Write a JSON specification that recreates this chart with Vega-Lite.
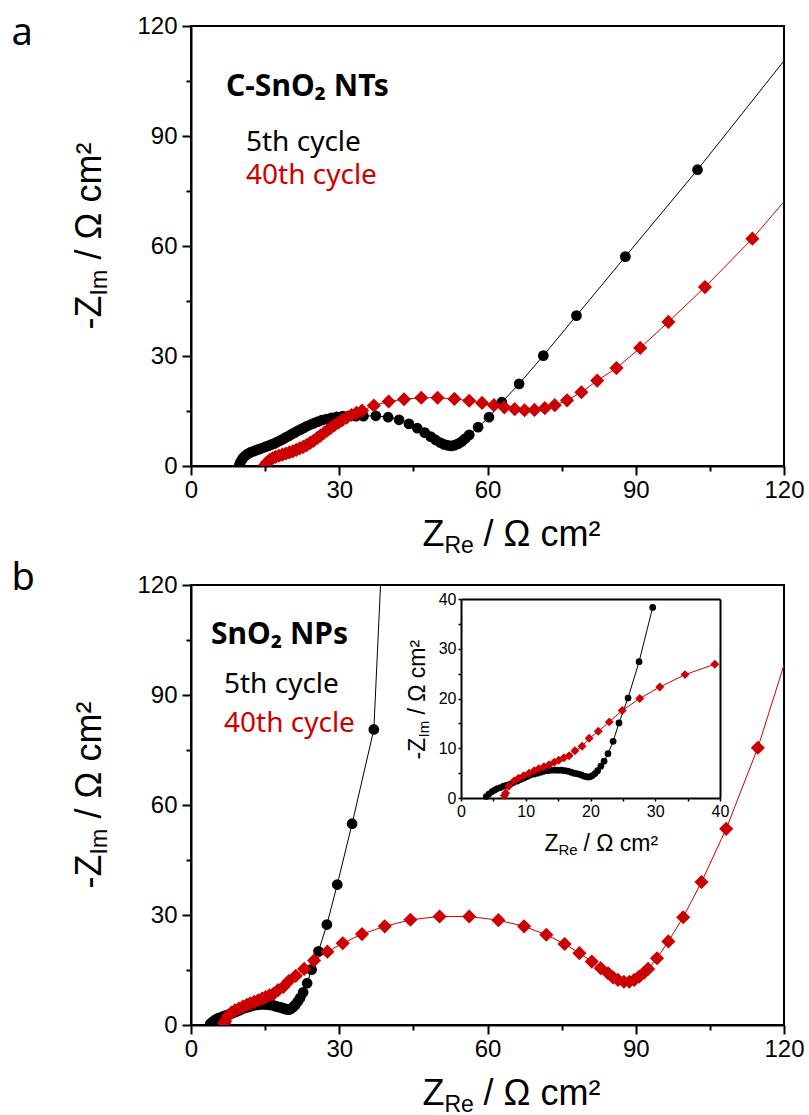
{
  "$schema": "https://vega.github.io/schema/vega-lite/v6.json",
  "background": "white",
  "padding": {"left": 10, "top": 13, "right": 5, "bottom": 5},
  "spacing": 0,
  "config": {
    "view": {"stroke": "black", "strokeWidth": 2},
    "axis": {"labelFont": "Liberation Sans", "titleFont": "Liberation Sans", "labelColor": "black", "titleColor": "black", "titleFontWeight": "normal", "domainColor": "black", "tickColor": "black", "grid": false},
    "legend": {"padding": 0}
  },
  "resolve": {"scale": {"color": "independent"}, "legend": {"color": "independent"}},
  "datasets": {
    "a": [
      {"c":"5th cycle","x":9.8,"y":0.3},{"c":"5th cycle","x":10.0,"y":1.0},{"c":"5th cycle","x":10.3,"y":1.7},{"c":"5th cycle","x":10.6,"y":2.3},{"c":"5th cycle","x":11.0,"y":2.8},{"c":"5th cycle","x":11.5,"y":3.3},{"c":"5th cycle","x":12.0,"y":3.7},{"c":"5th cycle","x":12.6,"y":4.0},{"c":"5th cycle","x":13.2,"y":4.3},{"c":"5th cycle","x":13.8,"y":4.6},{"c":"5th cycle","x":14.4,"y":4.9},{"c":"5th cycle","x":15.0,"y":5.2},{"c":"5th cycle","x":15.6,"y":5.5},{"c":"5th cycle","x":16.2,"y":5.8},{"c":"5th cycle","x":16.8,"y":6.1},{"c":"5th cycle","x":17.4,"y":6.5},{"c":"5th cycle","x":18.0,"y":6.9},{"c":"5th cycle","x":18.6,"y":7.3},{"c":"5th cycle","x":19.2,"y":7.8},{"c":"5th cycle","x":19.8,"y":8.2},{"c":"5th cycle","x":20.4,"y":8.7},{"c":"5th cycle","x":21.0,"y":9.1},{"c":"5th cycle","x":21.6,"y":9.6},{"c":"5th cycle","x":22.2,"y":10.0},{"c":"5th cycle","x":22.8,"y":10.4},{"c":"5th cycle","x":23.5,"y":10.9},{"c":"5th cycle","x":24.2,"y":11.3},{"c":"5th cycle","x":24.9,"y":11.7},{"c":"5th cycle","x":25.7,"y":12.1},{"c":"5th cycle","x":26.5,"y":12.5},{"c":"5th cycle","x":27.4,"y":12.8},{"c":"5th cycle","x":28.4,"y":13.1},{"c":"5th cycle","x":29.5,"y":13.4},{"c":"5th cycle","x":30.7,"y":13.6},{"c":"5th cycle","x":32.0,"y":13.7},{"c":"5th cycle","x":33.4,"y":13.6},{"c":"5th cycle","x":34.9,"y":13.6},{"c":"5th cycle","x":37.4,"y":13.7},{"c":"5th cycle","x":39.9,"y":13.3},{"c":"5th cycle","x":42.1,"y":12.6},{"c":"5th cycle","x":44.1,"y":11.5},{"c":"5th cycle","x":45.8,"y":10.3},{"c":"5th cycle","x":47.3,"y":9.1},{"c":"5th cycle","x":48.5,"y":8.0},{"c":"5th cycle","x":49.5,"y":7.1},{"c":"5th cycle","x":50.4,"y":6.4},{"c":"5th cycle","x":51.2,"y":5.9},{"c":"5th cycle","x":52.0,"y":5.6},{"c":"5th cycle","x":52.7,"y":5.5},{"c":"5th cycle","x":53.4,"y":5.7},{"c":"5th cycle","x":54.1,"y":6.1},{"c":"5th cycle","x":54.8,"y":6.7},{"c":"5th cycle","x":55.5,"y":7.5},{"c":"5th cycle","x":56.3,"y":8.5},{"c":"5th cycle","x":58.1,"y":10.6},{"c":"5th cycle","x":60.3,"y":13.3},{"c":"5th cycle","x":62.9,"y":17.4},{"c":"5th cycle","x":66.4,"y":22.4},{"c":"5th cycle","x":71.3,"y":30.1},{"c":"5th cycle","x":78.0,"y":41.0},{"c":"5th cycle","x":87.9,"y":57.1},{"c":"5th cycle","x":102.5,"y":80.8},{"c":"5th cycle","x":125,"y":119},
      {"c":"40th cycle","x":15.0,"y":0.3},{"c":"40th cycle","x":15.4,"y":1.0},{"c":"40th cycle","x":15.9,"y":1.6},{"c":"40th cycle","x":16.5,"y":2.1},{"c":"40th cycle","x":17.1,"y":2.5},{"c":"40th cycle","x":17.8,"y":2.8},{"c":"40th cycle","x":18.5,"y":3.1},{"c":"40th cycle","x":19.2,"y":3.4},{"c":"40th cycle","x":19.9,"y":3.7},{"c":"40th cycle","x":20.6,"y":4.0},{"c":"40th cycle","x":21.3,"y":4.4},{"c":"40th cycle","x":22.0,"y":4.8},{"c":"40th cycle","x":22.7,"y":5.2},{"c":"40th cycle","x":23.4,"y":5.7},{"c":"40th cycle","x":24.1,"y":6.3},{"c":"40th cycle","x":24.8,"y":6.9},{"c":"40th cycle","x":25.5,"y":7.6},{"c":"40th cycle","x":26.2,"y":8.3},{"c":"40th cycle","x":26.9,"y":9.0},{"c":"40th cycle","x":27.6,"y":9.7},{"c":"40th cycle","x":28.3,"y":10.4},{"c":"40th cycle","x":29.0,"y":11.1},{"c":"40th cycle","x":29.8,"y":11.8},{"c":"40th cycle","x":30.6,"y":12.5},{"c":"40th cycle","x":31.5,"y":13.2},{"c":"40th cycle","x":32.5,"y":13.9},{"c":"40th cycle","x":33.5,"y":14.5},{"c":"40th cycle","x":34.6,"y":15.1},{"c":"40th cycle","x":37.0,"y":16.5},{"c":"40th cycle","x":40.0,"y":17.6},{"c":"40th cycle","x":43.1,"y":18.2},{"c":"40th cycle","x":46.6,"y":18.6},{"c":"40th cycle","x":49.9,"y":18.6},{"c":"40th cycle","x":53.3,"y":18.3},{"c":"40th cycle","x":56.3,"y":17.8},{"c":"40th cycle","x":58.9,"y":17.2},{"c":"40th cycle","x":61.3,"y":16.6},{"c":"40th cycle","x":63.4,"y":16.0},{"c":"40th cycle","x":65.5,"y":15.5},{"c":"40th cycle","x":67.5,"y":15.2},{"c":"40th cycle","x":69.5,"y":15.3},{"c":"40th cycle","x":71.6,"y":15.8},{"c":"40th cycle","x":73.6,"y":16.6},{"c":"40th cycle","x":76.1,"y":17.9},{"c":"40th cycle","x":79.0,"y":20.1},{"c":"40th cycle","x":82.2,"y":23.3},{"c":"40th cycle","x":86.1,"y":26.7},{"c":"40th cycle","x":90.9,"y":32.2},{"c":"40th cycle","x":96.6,"y":39.3},{"c":"40th cycle","x":104.0,"y":48.8},{"c":"40th cycle","x":113.6,"y":62.0},{"c":"40th cycle","x":125,"y":80}
    ],
    "b": [
      {"c":"5th cycle","x":3.9,"y":0.3},{"c":"5th cycle","x":4.3,"y":0.8},{"c":"5th cycle","x":4.8,"y":1.3},{"c":"5th cycle","x":5.2,"y":1.6},{"c":"5th cycle","x":5.6,"y":1.9},{"c":"5th cycle","x":6.1,"y":2.1},{"c":"5th cycle","x":6.6,"y":2.4},{"c":"5th cycle","x":7.1,"y":2.6},{"c":"5th cycle","x":7.6,"y":2.8},{"c":"5th cycle","x":8.1,"y":3.1},{"c":"5th cycle","x":8.7,"y":3.4},{"c":"5th cycle","x":9.2,"y":3.7},{"c":"5th cycle","x":9.7,"y":4.0},{"c":"5th cycle","x":10.2,"y":4.3},{"c":"5th cycle","x":10.7,"y":4.6},{"c":"5th cycle","x":11.3,"y":4.8},{"c":"5th cycle","x":11.8,"y":5.0},{"c":"5th cycle","x":12.3,"y":5.2},{"c":"5th cycle","x":12.8,"y":5.4},{"c":"5th cycle","x":13.4,"y":5.5},{"c":"5th cycle","x":13.9,"y":5.6},{"c":"5th cycle","x":14.5,"y":5.6},{"c":"5th cycle","x":15.0,"y":5.6},{"c":"5th cycle","x":15.5,"y":5.6},{"c":"5th cycle","x":16.0,"y":5.5},{"c":"5th cycle","x":16.5,"y":5.4},{"c":"5th cycle","x":17.0,"y":5.2},{"c":"5th cycle","x":17.4,"y":5.0},{"c":"5th cycle","x":17.8,"y":4.9},{"c":"5th cycle","x":18.2,"y":4.8},{"c":"5th cycle","x":18.6,"y":4.6},{"c":"5th cycle","x":19.0,"y":4.4},{"c":"5th cycle","x":19.3,"y":4.3},{"c":"5th cycle","x":19.7,"y":4.2},{"c":"5th cycle","x":20.0,"y":4.3},{"c":"5th cycle","x":20.3,"y":4.5},{"c":"5th cycle","x":20.7,"y":4.9},{"c":"5th cycle","x":21.1,"y":5.5},{"c":"5th cycle","x":21.6,"y":6.4},{"c":"5th cycle","x":22.1,"y":7.4},{"c":"5th cycle","x":22.7,"y":8.9},{"c":"5th cycle","x":23.5,"y":11.4},{"c":"5th cycle","x":24.4,"y":15.1},{"c":"5th cycle","x":25.8,"y":20.1},{"c":"5th cycle","x":27.5,"y":27.4},{"c":"5th cycle","x":29.6,"y":38.3},{"c":"5th cycle","x":32.6,"y":54.9},{"c":"5th cycle","x":37.0,"y":80.6},{"c":"5th cycle","x":38.7,"y":130},
      {"c":"40th cycle","x":6.7,"y":0.5},{"c":"40th cycle","x":6.9,"y":1.0},{"c":"40th cycle","x":7.4,"y":2.4},{"c":"40th cycle","x":8.2,"y":3.4},{"c":"40th cycle","x":8.9,"y":4.0},{"c":"40th cycle","x":9.7,"y":4.5},{"c":"40th cycle","x":10.5,"y":5.0},{"c":"40th cycle","x":11.3,"y":5.5},{"c":"40th cycle","x":12.0,"y":5.9},{"c":"40th cycle","x":12.8,"y":6.3},{"c":"40th cycle","x":13.6,"y":6.7},{"c":"40th cycle","x":14.4,"y":7.2},{"c":"40th cycle","x":15.1,"y":7.6},{"c":"40th cycle","x":15.9,"y":8.1},{"c":"40th cycle","x":16.7,"y":8.5},{"c":"40th cycle","x":17.6,"y":9.5},{"c":"40th cycle","x":18.7,"y":10.4},{"c":"40th cycle","x":19.8,"y":12.0},{"c":"40th cycle","x":21.2,"y":13.4},{"c":"40th cycle","x":22.9,"y":15.3},{"c":"40th cycle","x":24.9,"y":17.6},{"c":"40th cycle","x":27.6,"y":20.0},{"c":"40th cycle","x":30.7,"y":22.3},{"c":"40th cycle","x":34.6,"y":24.8},{"c":"40th cycle","x":39.2,"y":26.9},{"c":"40th cycle","x":44.4,"y":28.7},{"c":"40th cycle","x":50.3,"y":29.6},{"c":"40th cycle","x":56.3,"y":29.6},{"c":"40th cycle","x":62.2,"y":28.6},{"c":"40th cycle","x":67.4,"y":26.9},{"c":"40th cycle","x":71.9,"y":24.6},{"c":"40th cycle","x":75.6,"y":22.1},{"c":"40th cycle","x":78.6,"y":19.6},{"c":"40th cycle","x":81.1,"y":17.3},{"c":"40th cycle","x":82.9,"y":15.5},{"c":"40th cycle","x":84.4,"y":14.1},{"c":"40th cycle","x":85.4,"y":13.0},{"c":"40th cycle","x":86.4,"y":12.3},{"c":"40th cycle","x":87.6,"y":11.8},{"c":"40th cycle","x":88.7,"y":11.8},{"c":"40th cycle","x":89.7,"y":12.3},{"c":"40th cycle","x":90.7,"y":13.2},{"c":"40th cycle","x":91.7,"y":14.3},{"c":"40th cycle","x":92.5,"y":15.3},{"c":"40th cycle","x":94.3,"y":18.2},{"c":"40th cycle","x":96.6,"y":22.8},{"c":"40th cycle","x":99.6,"y":29.4},{"c":"40th cycle","x":103.3,"y":39.0},{"c":"40th cycle","x":108.3,"y":53.5},{"c":"40th cycle","x":114.7,"y":75.6},{"c":"40th cycle","x":123,"y":111}
    ]
  },
  "vconcat": [
    {
      "width": 593, "height": 440,
      "data": {"name": "a"},
      "resolve": {"axis": {"x": "independent", "y": "independent"}},
      "layer": [
        {
          "transform": [{"filter": "datum.c === '5th cycle'"}],
          "mark": {"type": "line", "strokeWidth": 1, "clip": true},
          "encoding": {
            "x": {"field": "x", "type": "quantitative", "scale": {"domain": [0, 120], "nice": false, "zero": false},
              "axis": {"orient": "bottom", "values": [0,15,30,45,60,75,90,105,120], "labelExpr": "datum.value % 30 === 0 ? datum.label : ''", "tickSize": {"condition": {"test": "datum.value % 30 === 0", "value": 9}, "value": 5}, "tickWidth": 2, "domainWidth": 2, "labelFontSize": 24, "labelPadding": 3, "labelFlush": false, "labelOverlap": false, "title": "Z", "titleFontSize": 36, "titleAlign": "left", "titleBaseline": "alphabetic", "titleAngle": 0, "titleX": 231, "titleY": 79}},
            "y": {"field": "y", "type": "quantitative", "scale": {"domain": [0, 120], "nice": false, "zero": false},
              "axis": {"orient": "left", "values": [0,15,30,45,60,75,90,105,120], "labelExpr": "datum.value % 30 === 0 ? datum.label : ''", "tickSize": {"condition": {"test": "datum.value % 30 === 0", "value": 9}, "value": 5}, "tickWidth": 2, "domainWidth": 2, "labelFontSize": 24, "labelPadding": 5, "labelFlush": false, "labelOverlap": false, "title": "-Z", "titleFontSize": 36, "titleAngle": 270, "titleAlign": "left", "titleBaseline": "alphabetic", "titleX": -91, "titleY": 303}},
            "color": {"field": "c", "type": "nominal", "scale": {"domain": ["5th cycle", "40th cycle"], "range": ["black", "#cc0000"]},
              "legend": {"orient": "none", "legendX": 35, "legendY": 46, "title": "C-SnO₂ NTs", "titleFont": "Noto Sans", "titleFontSize": 30, "titleFontWeight": "bold", "titleColor": "black", "titlePadding": 27, "labelFont": "Noto Sans", "labelFontSize": 28, "labelColor": {"expr": "datum.label === '5th cycle' ? 'black' : '#cc0000'"}, "symbolOpacity": 0, "symbolSize": 0, "symbolStrokeWidth": 0, "labelOffset": -8, "rowPadding": 5, "labelLimit": 400}}
          }
        },
        {
          "transform": [{"filter": "datum.c === '40th cycle'"}],
          "mark": {"type": "line", "strokeWidth": 1, "clip": true},
          "encoding": {
            "x": {"field": "x", "type": "quantitative", "scale": {"domain": [0, 120], "nice": false, "zero": false},
              "axis": {"orient": "bottom", "domain": false, "ticks": false, "labels": false, "title": "Re", "titleFontSize": 23, "titleAlign": "left", "titleBaseline": "alphabetic", "titleAngle": 0, "titleX": 253, "titleY": 86}},
            "y": {"field": "y", "type": "quantitative", "scale": {"domain": [0, 120], "nice": false, "zero": false},
              "axis": {"orient": "left", "domain": false, "ticks": false, "labels": false, "title": "Im", "titleFontSize": 23, "titleAngle": 270, "titleAlign": "left", "titleBaseline": "alphabetic", "titleX": -85, "titleY": 269}},
            "color": {"field": "c", "type": "nominal", "scale": {"domain": ["5th cycle", "40th cycle"], "range": ["black", "#cc0000"]}}
          }
        },
        {
          "transform": [{"filter": "datum.c === '5th cycle'"}],
          "mark": {"type": "point", "shape": "circle", "filled": true, "size": 115, "opacity": 1, "clip": true},
          "encoding": {
            "x": {"field": "x", "type": "quantitative", "scale": {"domain": [0, 120], "nice": false, "zero": false},
              "axis": {"orient": "bottom", "domain": false, "ticks": false, "labels": false, "title": "/ Ω cm²", "titleFontSize": 36, "titleAlign": "left", "titleBaseline": "alphabetic", "titleAngle": 0, "titleX": 292, "titleY": 79}},
            "y": {"field": "y", "type": "quantitative", "scale": {"domain": [0, 120], "nice": false, "zero": false},
              "axis": {"orient": "left", "domain": false, "ticks": false, "labels": false, "title": "/ Ω cm²", "titleFontSize": 36, "titleAngle": 270, "titleAlign": "left", "titleBaseline": "alphabetic", "titleX": -91, "titleY": 233}},
            "color": {"field": "c", "type": "nominal", "scale": {"domain": ["5th cycle", "40th cycle"], "range": ["black", "#cc0000"]}}
          }
        },
        {
          "transform": [{"filter": "datum.c === '40th cycle'"}],
          "mark": {"type": "point", "shape": "diamond", "filled": true, "size": 200, "opacity": 1, "clip": true},
          "encoding": {
            "x": {"field": "x", "type": "quantitative", "scale": {"domain": [0, 120], "nice": false, "zero": false}, "axis": null},
            "y": {"field": "y", "type": "quantitative", "scale": {"domain": [0, 120], "nice": false, "zero": false},
              "axis": {"orient": "left", "domain": false, "ticks": false, "labels": false, "title": "a", "titleFont": "Noto Sans", "titleFontSize": 38, "titleAngle": 0, "titleAlign": "left", "titleBaseline": "alphabetic", "titleX": -180, "titleY": 18}},
            "color": {"field": "c", "type": "nominal", "scale": {"domain": ["5th cycle", "40th cycle"], "range": ["black", "#cc0000"]}}
          }
        }
      ]
    },
    {
      "width": 593, "height": 440,
      "data": {"name": "b"},
      "resolve": {"scale": {"x": "independent", "y": "independent"}, "axis": {"x": "independent", "y": "independent"}},
      "layer": [
        {
          "resolve": {"axis": {"x": "independent", "y": "independent"}},
          "layer": [
            {
              "transform": [{"filter": "datum.c === '5th cycle'"}],
              "mark": {"type": "line", "strokeWidth": 1, "clip": true},
              "encoding": {
                "x": {"field": "x", "type": "quantitative", "scale": {"domain": [0, 120], "nice": false, "zero": false},
                  "axis": {"orient": "bottom", "values": [0,15,30,45,60,75,90,105,120], "labelExpr": "datum.value % 30 === 0 ? datum.label : ''", "tickSize": {"condition": {"test": "datum.value % 30 === 0", "value": 9}, "value": 5}, "tickWidth": 2, "domainWidth": 2, "labelFontSize": 24, "labelPadding": 3, "labelFlush": false, "labelOverlap": false, "title": "Z", "titleFontSize": 36, "titleAlign": "left", "titleBaseline": "alphabetic", "titleAngle": 0, "titleX": 231, "titleY": 79}},
                "y": {"field": "y", "type": "quantitative", "scale": {"domain": [0, 120], "nice": false, "zero": false},
                  "axis": {"orient": "left", "values": [0,15,30,45,60,75,90,105,120], "labelExpr": "datum.value % 30 === 0 ? datum.label : ''", "tickSize": {"condition": {"test": "datum.value % 30 === 0", "value": 9}, "value": 5}, "tickWidth": 2, "domainWidth": 2, "labelFontSize": 24, "labelPadding": 5, "labelFlush": false, "labelOverlap": false, "title": "-Z", "titleFontSize": 36, "titleAngle": 270, "titleAlign": "left", "titleBaseline": "alphabetic", "titleX": -91, "titleY": 303}},
                "color": {"field": "c", "type": "nominal", "scale": {"domain": ["5th cycle", "40th cycle"], "range": ["black", "#cc0000"]},
                  "legend": {"orient": "none", "legendX": 20, "legendY": 35, "title": "SnO₂ NPs", "titleFont": "Noto Sans", "titleFontSize": 30, "titleFontWeight": "bold", "titleColor": "black", "titlePadding": 21, "labelFont": "Noto Sans", "labelFontSize": 28, "labelColor": {"expr": "datum.label === '5th cycle' ? 'black' : '#cc0000'"}, "symbolOpacity": 0, "symbolSize": 0, "symbolStrokeWidth": 0, "labelOffset": -15, "rowPadding": 11, "labelLimit": 400}}
              }
            },
            {
              "transform": [{"filter": "datum.c === '40th cycle'"}],
              "mark": {"type": "line", "strokeWidth": 1, "clip": true},
              "encoding": {
                "x": {"field": "x", "type": "quantitative", "scale": {"domain": [0, 120], "nice": false, "zero": false},
                  "axis": {"orient": "bottom", "domain": false, "ticks": false, "labels": false, "title": "Re", "titleFontSize": 23, "titleAlign": "left", "titleBaseline": "alphabetic", "titleAngle": 0, "titleX": 253, "titleY": 86}},
                "y": {"field": "y", "type": "quantitative", "scale": {"domain": [0, 120], "nice": false, "zero": false},
                  "axis": {"orient": "left", "domain": false, "ticks": false, "labels": false, "title": "Im", "titleFontSize": 23, "titleAngle": 270, "titleAlign": "left", "titleBaseline": "alphabetic", "titleX": -85, "titleY": 269}},
                "color": {"field": "c", "type": "nominal", "scale": {"domain": ["5th cycle", "40th cycle"], "range": ["black", "#cc0000"]}}
              }
            },
            {
              "transform": [{"filter": "datum.c === '5th cycle'"}],
              "mark": {"type": "point", "shape": "circle", "filled": true, "size": 115, "opacity": 1, "clip": true},
              "encoding": {
                "x": {"field": "x", "type": "quantitative", "scale": {"domain": [0, 120], "nice": false, "zero": false},
                  "axis": {"orient": "bottom", "domain": false, "ticks": false, "labels": false, "title": "/ Ω cm²", "titleFontSize": 36, "titleAlign": "left", "titleBaseline": "alphabetic", "titleAngle": 0, "titleX": 292, "titleY": 79}},
                "y": {"field": "y", "type": "quantitative", "scale": {"domain": [0, 120], "nice": false, "zero": false},
                  "axis": {"orient": "left", "domain": false, "ticks": false, "labels": false, "title": "/ Ω cm²", "titleFontSize": 36, "titleAngle": 270, "titleAlign": "left", "titleBaseline": "alphabetic", "titleX": -91, "titleY": 233}},
                "color": {"field": "c", "type": "nominal", "scale": {"domain": ["5th cycle", "40th cycle"], "range": ["black", "#cc0000"]}}
              }
            },
            {
              "transform": [{"filter": "datum.c === '40th cycle'"}],
              "mark": {"type": "point", "shape": "diamond", "filled": true, "size": 200, "opacity": 1, "clip": true},
              "encoding": {
                "x": {"field": "x", "type": "quantitative", "scale": {"domain": [0, 120], "nice": false, "zero": false}, "axis": null},
                "y": {"field": "y", "type": "quantitative", "scale": {"domain": [0, 120], "nice": false, "zero": false},
                  "axis": {"orient": "left", "domain": false, "ticks": false, "labels": false, "title": "b", "titleFont": "Noto Sans", "titleFontSize": 38, "titleAngle": 0, "titleAlign": "left", "titleBaseline": "alphabetic", "titleX": -180, "titleY": 4}},
                "color": {"field": "c", "type": "nominal", "scale": {"domain": ["5th cycle", "40th cycle"], "range": ["black", "#cc0000"]}}
              }
            }
          ]
        },
        {
          "resolve": {"axis": {"x": "independent", "y": "independent"}},
          "transform": [{"filter": "datum.x <= 40 && datum.y <= 40"}],
          "layer": [
            {
              "transform": [{"filter": "datum.c === '5th cycle'"}],
              "mark": {"type": "line", "strokeWidth": 1, "color": "black"},
              "encoding": {
                "x": {"field": "x", "type": "quantitative", "scale": {"domain": [0, 40], "range": [270, 529], "nice": false, "zero": false},
                  "axis": {"orient": "bottom", "offset": -227, "values": [0,5,10,15,20,25,30,35,40], "labelExpr": "datum.value % 10 === 0 ? datum.label : ''", "tickSize": 3, "tickWidth": 1.5, "domainWidth": 2, "labelFontSize": 16, "labelPadding": 2, "labelFlush": false, "labelOverlap": false, "title": "Z", "titleFontSize": 23, "titleAlign": "left", "titleBaseline": "alphabetic", "titleAngle": 0, "titleX": 353, "titleY": 52}},
                "y": {"field": "y", "type": "quantitative", "scale": {"domain": [0, 40], "range": [213, 14], "nice": false, "zero": false},
                  "axis": {"orient": "left", "offset": -270, "values": [0,5,10,15,20,25,30,35,40], "labelExpr": "datum.value % 10 === 0 ? datum.label : ''", "tickSize": 3, "tickWidth": 1.5, "domainWidth": 2, "labelFontSize": 16, "labelPadding": 2, "labelFlush": false, "labelOverlap": false, "title": "-Z", "titleFontSize": 23, "titleAngle": 270, "titleAlign": "left", "titleBaseline": "alphabetic", "titleX": -37, "titleY": 174}}
              }
            },
            {
              "transform": [{"filter": "datum.c === '40th cycle'"}],
              "mark": {"type": "line", "strokeWidth": 1, "color": "#cc0000"},
              "encoding": {
                "x": {"field": "x", "type": "quantitative", "scale": {"domain": [0, 40], "range": [270, 529], "nice": false, "zero": false},
                  "axis": {"orient": "bottom", "offset": -227, "domain": false, "ticks": false, "labels": false, "title": "Re", "titleFontSize": 15, "titleAlign": "left", "titleBaseline": "alphabetic", "titleAngle": 0, "titleX": 367, "titleY": 56}},
                "y": {"field": "y", "type": "quantitative", "scale": {"domain": [0, 40], "range": [213, 14], "nice": false, "zero": false},
                  "axis": {"orient": "left", "offset": -270, "domain": false, "ticks": false, "labels": false, "title": "Im", "titleFontSize": 15, "titleAngle": 270, "titleAlign": "left", "titleBaseline": "alphabetic", "titleX": -33, "titleY": 152}}
              }
            },
            {
              "transform": [{"filter": "datum.c === '5th cycle'"}],
              "mark": {"type": "point", "shape": "circle", "filled": true, "size": 45, "opacity": 1, "color": "black"},
              "encoding": {
                "x": {"field": "x", "type": "quantitative", "scale": {"domain": [0, 40], "range": [270, 529], "nice": false, "zero": false},
                  "axis": {"orient": "bottom", "offset": -227, "domain": false, "ticks": false, "labels": false, "title": "/ Ω cm²", "titleFontSize": 23, "titleAlign": "left", "titleBaseline": "alphabetic", "titleAngle": 0, "titleX": 392, "titleY": 52}},
                "y": {"field": "y", "type": "quantitative", "scale": {"domain": [0, 40], "range": [213, 14], "nice": false, "zero": false},
                  "axis": {"orient": "left", "offset": -270, "domain": false, "ticks": false, "labels": false, "title": "/ Ω cm²", "titleFontSize": 23, "titleAngle": 270, "titleAlign": "left", "titleBaseline": "alphabetic", "titleX": -37, "titleY": 129}}
              }
            },
            {
              "transform": [{"filter": "datum.c === '40th cycle'"}],
              "mark": {"type": "point", "shape": "diamond", "filled": true, "size": 80, "opacity": 1, "color": "#cc0000"},
              "encoding": {
                "x": {"field": "x", "type": "quantitative", "scale": {"domain": [0, 40], "range": [270, 529], "nice": false, "zero": false},
                  "axis": {"orient": "top", "offset": -14, "domainWidth": 2, "ticks": false, "labels": false, "title": null}},
                "y": {"field": "y", "type": "quantitative", "scale": {"domain": [0, 40], "range": [213, 14], "nice": false, "zero": false},
                  "axis": {"orient": "right", "offset": -64, "domainWidth": 2, "ticks": false, "labels": false, "title": null}}
              }
            }
          ]
        }
      ]
    }
  ]
}
